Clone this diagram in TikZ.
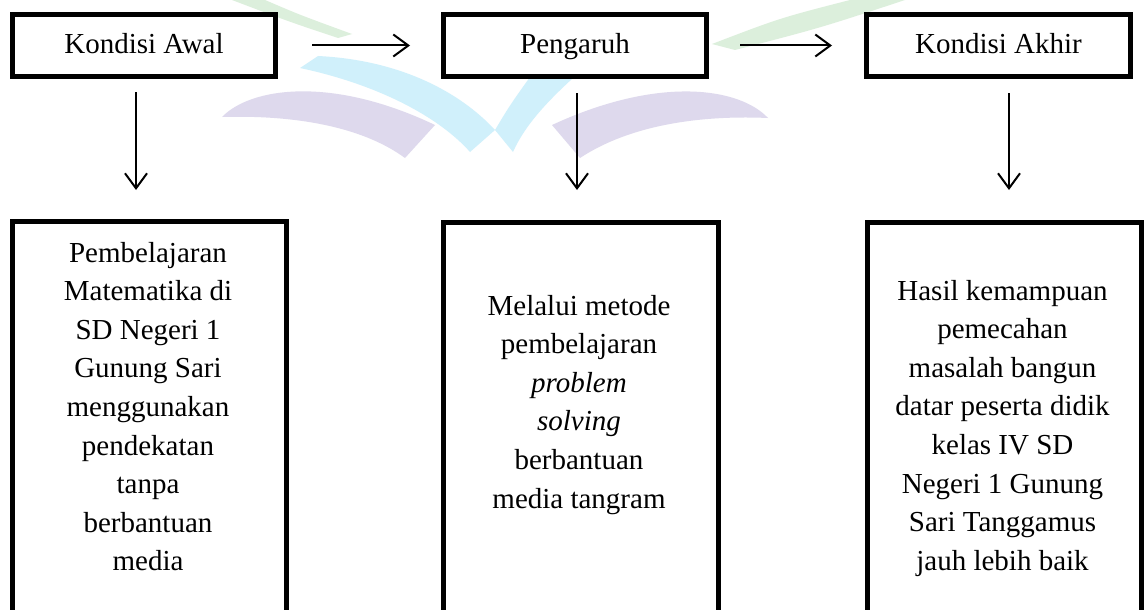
\documentclass[tikz,border=0pt]{standalone}
\usepackage{fontspec}
\setmainfont{Liberation Serif}
\usetikzlibrary{arrows.meta}
\definecolor{wmgreen}{RGB}{220,239,220}
\definecolor{wmcyan}{RGB}{208,240,251}
\definecolor{wmpurple}{RGB}{222,217,237}
\begin{document}
\begin{tikzpicture}[x=1pt,y=-1pt,
  topbox/.style={draw, fill=white, line width=5pt, minimum width=263pt, minimum height=62pt,
    inner sep=0pt, font=\fontsize{29}{34}\selectfont, text height=21pt, text depth=4pt},
  lowbox/.style={draw, fill=white, line width=5pt, minimum height=500pt, anchor=north, inner sep=0pt},
  lowtext/.style={anchor=base, inner sep=0pt, font=\fontsize{29}{38.6}\selectfont},
  arr/.style={line width=2pt, -{Straight Barb[length=15pt,width=22pt,line width=2pt]}}]
\useasboundingbox (0,0) rectangle (1146,610);
\clip (0,0) rectangle (1146,610);
\fill[white] (0,0) rectangle (1146,610);
% faint watermark
\fill[wmgreen] (232,0) -- (265,0) .. controls (300,15) .. (352,34) -- (338,38) .. controls (290,22) .. (232,0) -- cycle;
\fill[wmgreen] (712,44) .. controls (780,18) .. (850,0) -- (905,0) .. controls (820,28) .. (735,50) -- cycle;
\fill[wmpurple] (222,117) .. controls (250,88) and (330,75) .. (435,125) -- (405,158) .. controls (360,125) and (290,115) .. (222,117) -- cycle;
\fill[wmpurple] (768,118) .. controls (740,88) and (660,75) .. (552,125) -- (580,158) .. controls (630,125) and (700,115) .. (768,118) -- cycle;
\fill[wmcyan] (300,68) -- (318,56) .. controls (400,60) and (460,92) .. (495,130) -- (470,152) .. controls (440,118) and (380,85) .. (300,68) -- cycle;
\fill[wmcyan] (495,130) .. controls (510,105) .. (535,70) -- (582,70) .. controls (548,100) and (525,125) .. (513,152) -- cycle;
% top boxes
\node[topbox] (k1) at (144,45.5) {Kondisi Awal};
\node[topbox] (k2) at (575,45.5) {Pengaruh};
\node[topbox, minimum width=264pt] (k3) at (998.5,45.5) {Kondisi Akhir};
\draw[arr, shorten <=34pt, shorten >=31pt] (k1.east) -- (k2.west);
\draw[arr, shorten <=31pt, shorten >=32pt] (k2.east) -- (k3.west);
% vertical arrows
\coordinate (v1s) at (136,92);  \coordinate (v1e) at (136,190);
\coordinate (v2s) at (577,93);  \coordinate (v2e) at (577,190);
\coordinate (v3s) at (1009,93); \coordinate (v3e) at (1009,190);
\draw[arr] (v1s) -- (v1e);
\draw[arr] (v2s) -- (v2e);
\draw[arr] (v3s) -- (v3e);
% lower boxes
\node[lowbox, minimum width=274pt] (b1) at (149.5,219) {};
\node[lowbox, minimum width=275pt] (b2) at (581,220) {};
\node[lowbox, minimum width=274pt] (b3) at (1004.5,220) {};
\node[lowtext] (t1) at (148,262) {\begin{tabular}[t]{@{}c@{}}Pembelajaran\\ Matematika di\\ SD Negeri 1\\ Gunung Sari\\ menggunakan\\ pendekatan\\ tanpa\\ berbantuan\\ media\end{tabular}};
\node[lowtext] (t2) at (579,315) {\begin{tabular}[t]{@{}c@{}}Melalui metode\\ pembelajaran\\ \textit{problem}\\ \textit{solving}\\ berbantuan\\ media tangram\end{tabular}};
\node[lowtext] (t3) at (1002.5,300) {\begin{tabular}[t]{@{}c@{}}Hasil kemampuan\\ pemecahan\\ masalah bangun\\ datar peserta didik\\ kelas IV SD\\ Negeri 1 Gunung\\ Sari Tanggamus\\ jauh lebih baik\end{tabular}};
\end{tikzpicture}
\end{document}
